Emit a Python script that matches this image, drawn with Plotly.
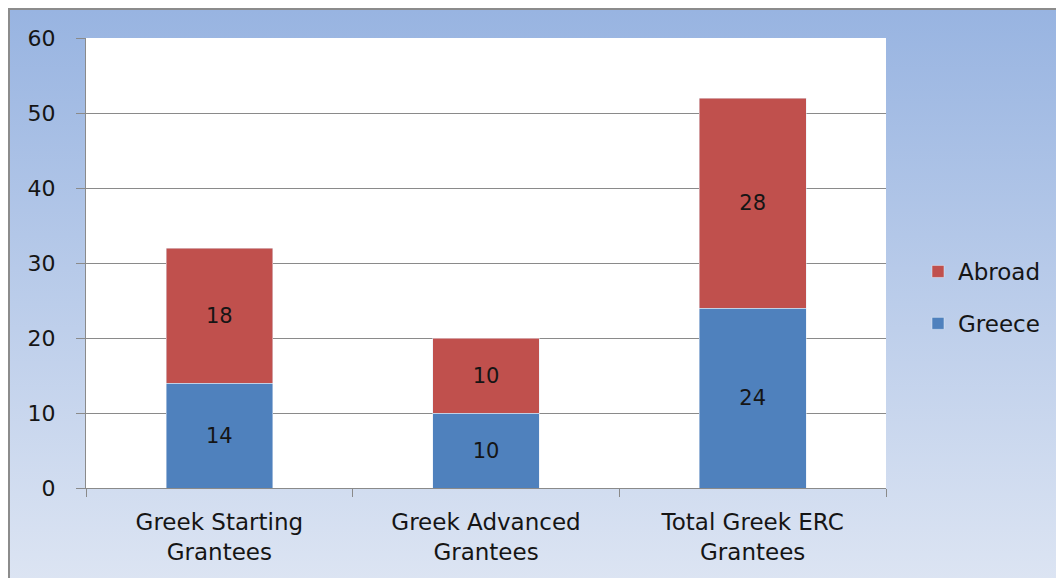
import base64
import plotly.graph_objects as go

categories = ["Greek Starting<br>Grantees", "Greek Advanced<br>Grantees", "Total Greek ERC<br>Grantees"]
greece = [14, 10, 24]
abroad = [18, 10, 28]
y_ticks = [0, 10, 20, 30, 40, 50, 60]

# page is drawn with an 8px body margin, so figure coords = page coords - 8
W, H = 1064, 578
L, T = 78, 30
PW, PH = 800, 450
R, B = W - L - PW, H - T - PH

svg = f'''<svg xmlns="http://www.w3.org/2000/svg" width="{W}" height="{H}" viewBox="0 0 {W} {H}" preserveAspectRatio="none">
<defs><linearGradient id="g" x1="0" y1="0" x2="0" y2="1">
<stop offset="0" stop-color="#98B4E1"/><stop offset="1" stop-color="#DDE5F3"/></linearGradient></defs>
<rect x="0" y="0" width="{W}" height="{H}" fill="#8C8C8C"/>
<rect x="2" y="2" width="{W}" height="{H}" fill="url(#g)"/>
<rect x="{L}" y="{T}" width="{PW}" height="{PH}" fill="#FFFFFF"/>
</svg>'''
src = "data:image/svg+xml;base64," + base64.b64encode(svg.encode()).decode()

FONT = "DejaVu Sans"
TXT = "#151515"
fig = go.Figure()
fig.add_trace(go.Bar(x=categories, y=greece, name="Greece", marker_color="#4F81BD",
                     text=greece, textposition="inside", insidetextanchor="middle",
                     textfont=dict(size=21, color=TXT, family=FONT),
                     legendrank=2, legendgroup="g"))
fig.add_trace(go.Bar(x=categories, y=abroad, name="Abroad", marker_color="#C0504D",
                     text=abroad, textposition="inside", insidetextanchor="middle",
                     textfont=dict(size=21, color=TXT, family=FONT),
                     legendrank=1, legendgroup="a"))

fig.update_layout(
    width=W, height=H,
    margin=dict(l=L, r=R, t=T, b=B, autoexpand=False),
    barmode="stack", bargap=0.6,
    paper_bgcolor="white", plot_bgcolor="rgba(0,0,0,0)",
    font=dict(family=FONT, size=22, color=TXT),
    images=[dict(source=src, xref="paper", yref="paper",
                 x=-L / PW, y=1 + T / PH, sizex=W / PW, sizey=H / PH,
                 xanchor="left", yanchor="top", sizing="stretch", layer="below")],
    legend=dict(x=(910 - L) / PW, xanchor="left", y=(480 - 289.5) / PH, yanchor="middle",
                traceorder="grouped", bgcolor="rgba(0,0,0,0)", tracegroupgap=19,
                font=dict(size=23, family=FONT, color=TXT)),
    showlegend=True,
)
fig.update_yaxes(range=[0, 60], tickvals=y_ticks, showgrid=True, gridcolor="#8A8A8A", gridwidth=1,
                 showline=True, linecolor="#8A8A8A", linewidth=1, ticks="outside", ticklen=9,
                 tickcolor="#8A8A8A", ticklabelstandoff=16, zeroline=False, fixedrange=True,
                 tickfont=dict(size=22))
fig.update_xaxes(showline=True, linecolor="#8A8A8A", linewidth=1, ticks="outside", ticklen=8,
                 tickcolor="#8A8A8A", tickson="boundaries", showgrid=False, fixedrange=True,
                 ticklabelstandoff=13, tickfont=dict(size=23))

fig.write_html("out.html")
